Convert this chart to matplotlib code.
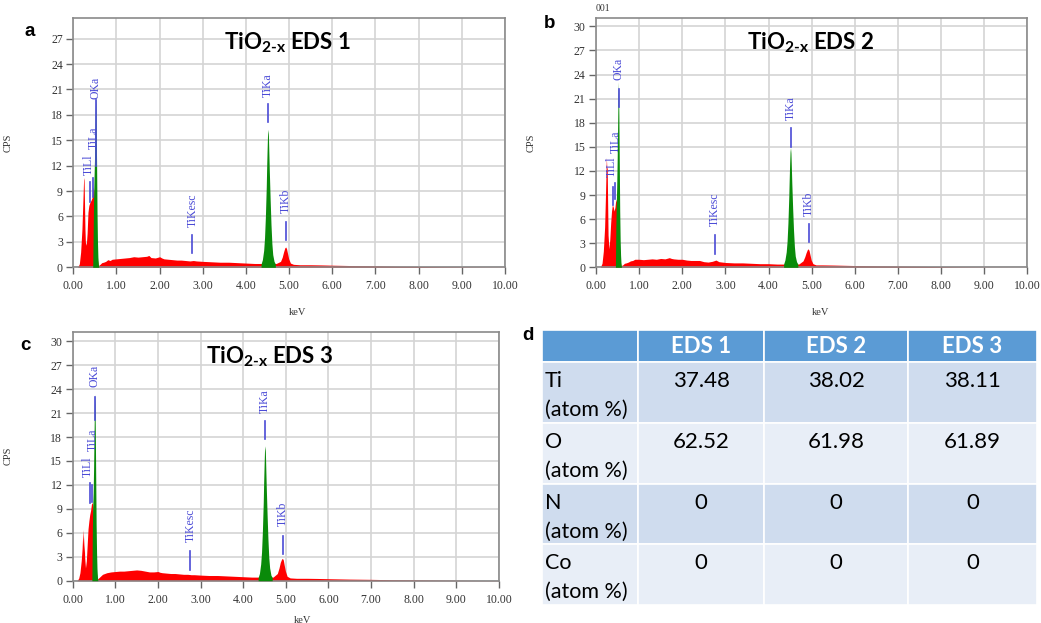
import matplotlib
matplotlib.use("Agg")
import matplotlib.pyplot as plt
from matplotlib.patches import Rectangle

plt.rcParams['mathtext.fontset'] = 'custom'
plt.rcParams['mathtext.rm'] = 'Lato:bold'
plt.rcParams['mathtext.it'] = 'Lato:bold'
plt.rcParams['mathtext.bf'] = 'Lato:bold'

# ---------------- data ----------------
LOW_E = [0.00, 0.10, 0.14, 0.17, 0.20, 0.22, 0.24, 0.25, 0.26, 0.27, 0.28, 0.30,
         0.32, 0.34, 0.36, 0.38, 0.40, 0.42, 0.44, 0.46, 0.48, 0.50, 0.54]
BG_E = [0.58, 0.62, 0.66, 0.70, 0.75, 0.80, 0.85, 0.90,
        1.00, 1.10, 1.20, 1.30, 1.40, 1.50, 1.60, 1.70, 1.75, 1.80, 1.90,
        2.00, 2.05, 2.10, 2.20, 2.30, 2.40, 2.50, 2.60, 2.70, 2.78, 2.85,
        3.00, 3.20, 3.40, 3.60, 3.80,
        4.00, 4.20, 4.35, 4.50, 4.70, 4.80, 4.84, 4.87, 4.90, 4.92, 4.94, 4.96, 4.99,
        5.03, 5.10, 5.25, 5.50, 5.75,
        6.00, 6.50, 7.00, 7.50, 8.00, 8.50, 9.00, 9.50, 10.00]
OKA_E = [0.45, 0.46, 0.47, 0.48, 0.49, 0.50, 0.51, 0.52, 0.53, 0.54, 0.55, 0.56, 0.57, 0.58, 0.59]
TIKA_E = [4.35, 4.38, 4.41, 4.43, 4.45, 4.47, 4.48, 4.49, 4.50, 4.51, 4.52, 4.53, 4.54,
          4.56, 4.58, 4.60, 4.62, 4.65, 4.68]

low_a = [0, 0, 0.4, 1.8, 4.5, 7.5, 10.6, 10.3, 7.5, 4.5, 3.0, 2.6,
         4.0, 6.5, 7.3, 7.6, 7.8, 8.0, 8.3, 9.5, 9.0, 6.0, 1.5]
low_b = [0, 0, 0.5, 2.0, 5.0, 9.0, 13.7, 12.5, 12.3, 8.0, 4.0, 2.3,
         3.5, 5.5, 7.0, 7.8, 7.5, 7.0, 7.5, 8.5, 8.0, 5.0, 1.5]
low_c = [0, 0, 0.3, 1.0, 2.5, 4.0, 6.4, 5.0, 3.5, 5.6, 3.0, 1.6,
         2.5, 4.5, 6.5, 7.5, 8.3, 8.8, 9.6, 9.8, 9.0, 6.0, 1.5]

bg_a = [0.2, 0.35, 0.55, 0.6, 0.7, 0.9, 0.8, 0.95,
        1.0, 1.05, 1.1, 1.15, 1.25, 1.2, 1.25, 1.3, 1.4, 1.15, 1.1,
        1.25, 1.1, 1.0, 0.95, 0.9, 0.85, 0.85, 0.8, 0.75, 0.8, 0.75,
        0.7, 0.65, 0.6, 0.6, 0.55,
        0.5, 0.45, 0.45, 0.45, 0.45, 0.7, 1.2, 1.8, 2.3, 2.4, 2.2, 1.7, 1.0,
        0.5, 0.35, 0.3, 0.3, 0.28,
        0.25, 0.2, 0.17, 0.12, 0.1, 0.07, 0.05, 0.03, 0.02]
bg_b = [0.2, 0.3, 0.5, 0.55, 0.65, 0.8, 0.85, 1.0,
        1.0, 0.95, 1.0, 1.05, 1.0, 1.1, 1.05, 1.2, 1.1, 1.05, 1.0,
        1.0, 0.95, 0.9, 0.85, 0.85, 0.85, 0.7, 0.65, 0.75, 0.9, 0.7,
        0.6, 0.55, 0.55, 0.5, 0.45,
        0.45, 0.4, 0.4, 0.4, 0.4, 0.8, 1.3, 1.8, 2.2, 2.3, 2.1, 1.6, 0.9,
        0.45, 0.3, 0.3, 0.28, 0.25,
        0.22, 0.18, 0.15, 0.12, 0.08, 0.05, 0.03, 0.02, 0.01]
bg_c = [0.2, 0.4, 0.6, 0.8, 0.9, 1.0, 1.05, 1.1,
        1.15, 1.2, 1.2, 1.25, 1.3, 1.35, 1.3, 1.2, 1.15, 1.1, 1.1,
        1.15, 1.05, 1.0, 0.95, 0.9, 0.9, 0.85, 0.8, 0.8, 0.75, 0.75,
        0.7, 0.65, 0.65, 0.6, 0.55,
        0.5, 0.45, 0.45, 0.45, 0.45, 0.9, 1.6, 2.3, 2.7, 2.8, 2.6, 2.0, 1.2,
        0.55, 0.35, 0.3, 0.3, 0.28,
        0.25, 0.2, 0.17, 0.12, 0.1, 0.07, 0.05, 0.03, 0.02]

oka_a = [0, 4, 8, 10.5, 12.5, 16, 18.5, 20.3, 17, 12, 6.5, 3.0, 1.2, 0.4, 0]
oka_b = [0, 5, 8, 10, 13, 17, 21, 23.1, 19, 13, 7, 3.5, 1.5, 0.5, 0]
oka_c = [0, 6, 9.5, 11, 14, 18, 22, 23.4, 19, 13, 7, 3.5, 1.5, 0.5, 0]

tika_a = [0.4, 0.9, 2.0, 3.5, 6.0, 9.5, 12.0, 14.0, 15.8, 16.3, 15.5, 13.5, 11.5, 8.0, 5.0, 2.8, 1.5, 0.7, 0.4]
tika_b = [0.4, 0.9, 1.9, 3.2, 5.5, 8.8, 11.0, 12.9, 14.4, 14.9, 14.2, 12.4, 10.5, 7.3, 4.6, 2.6, 1.4, 0.7, 0.4]
tika_c = [0.4, 0.9, 2.1, 3.6, 6.2, 9.8, 12.4, 14.5, 16.4, 16.9, 16.1, 14.0, 11.9, 8.3, 5.2, 2.9, 1.6, 0.7, 0.4]

# peak markers: names, energies (line, text) and per-panel (line bottom, line top, text bottom)
MARK_NAMES = ['TiLl', 'TiLa', 'OKa', 'TiKesc', 'TiKa', 'TiKb']
MARK_LINE_E = [0.395, 0.452, 0.525, 2.76, 4.51, 4.93]
MARK_TEXT_E = [0.36, 0.47, 0.52, 2.76, 4.51, 4.93]
marks_a = [(7.7, 10.1, 10.9), (8.3, 10.6, 14.0), (12.0, 19.8, 19.9), (1.65, 3.8, 4.8), (17.1, 19.3, 20.1), (3.2, 5.4, 6.4)]
marks_b = [(7.75, 10.0, 11.3), (8.5, 10.5, 14.2), (20.0, 22.2, 23.3), (1.7, 4.0, 5.1), (15.0, 17.3, 18.3), (3.1, 5.4, 6.4)]
marks_c = [(9.7, 12.2, 13.0), (9.8, 12.0, 16.3), (20.1, 23.0, 24.3), (1.4, 3.75, 4.9), (17.7, 20.0, 21.0), (3.3, 5.6, 6.8)]

X_TICKS = [0, 1, 2, 3, 4, 5, 6, 7, 8, 9, 10]
Y_TICKS = [0, 3, 6, 9, 12, 15, 18, 21, 24, 27, 30]

# table
TABLE_COLS = ['EDS 1', 'EDS 2', 'EDS 3']
TABLE_ROWS = ['Ti', 'O', 'N', 'Co']
TABLE_VALS = [['37.48', '38.02', '38.11'],
              ['62.52', '61.98', '61.89'],
              ['0', '0', '0'],
              ['0', '0', '0']]

# ---------------- figure ----------------
W, H = 1041, 623
fig = plt.figure(figsize=(W / 100, H / 100), dpi=100)

RED = '#ff0000'
GREEN = '#0a8a0a'
BLUE = '#4a4ad6'
SERIF = 'Liberation Serif'


def px_axes(l, t, r, b):
    return fig.add_axes([l / W, 1 - b / H, (r - l) / W, (b - t) / H])


def spectrum(ax, low, bg, oka, tika, marks, ymax, title, tx):
    ax.fill_between(LOW_E + BG_E, 0, low + bg, color=RED, lw=0, zorder=2)
    ax.fill_between(OKA_E, 0, oka, color=GREEN, lw=0, zorder=3)
    ax.fill_between(TIKA_E, 0, tika, color=GREEN, lw=0, zorder=3)
    for name, le, te, (y0, y1, yt) in zip(MARK_NAMES, MARK_LINE_E, MARK_TEXT_E, marks):
        ax.plot([le, le], [y0, y1], color=BLUE, lw=1.2, zorder=4)
        ax.text(te, yt, name, rotation=90, ha='center', va='bottom', color=BLUE,
                fontsize=8.5, family=SERIF, zorder=5)
    ax.set_xlim(0, 10)
    ax.set_ylim(0, ymax)
    ax.set_xticks(X_TICKS)
    ax.set_xticklabels(['%.2f' % v for v in X_TICKS])
    ax.set_yticks([v for v in Y_TICKS if v <= ymax])
    ax.grid(True, color='#d4d4d4', lw=1.2, zorder=0)
    ax.set_axisbelow(True)
    for s in ax.spines.values():
        s.set_color('#8a8a8a')
        s.set_linewidth(1.2)
    ax.tick_params(axis='x', direction='out', length=5, width=1, color='#666666',
                   pad=4.5, labelsize=8.5, labelcolor='#333333')
    ax.tick_params(axis='y', direction='out', length=5, width=1, color='#666666',
                   pad=2.5, labelsize=8.5, labelcolor='#333333')
    for lab in ax.get_xticklabels() + ax.get_yticklabels():
        lab.set_family(SERIF)
    ax.set_ylabel('CPS', family=SERIF, fontsize=7.5, color='#333333')
    ax.set_xlabel('keV', family=SERIF, fontsize=7.5, color='#333333')
    ax.text(tx, 0.9, title, transform=ax.transAxes, ha='center', va='center',
            fontsize=16, family='Lato', fontweight='bold')


ax_a = px_axes(73.3, 18.3, 505, 267.3)
spectrum(ax_a, low_a, bg_a, oka_a, tika_a, marks_a, 29.4, r'TiO$_{2\text{-}x}$ EDS 1', 0.497)
ax_a.yaxis.set_label_coords(-0.14, 0.5)
ax_a.xaxis.set_label_coords(0.52, -0.163)

ax_b = px_axes(596, 18.3, 1027.3, 267.3)
spectrum(ax_b, low_b, bg_b, oka_b, tika_b, marks_b, 31.0, r'TiO$_{2\text{-}x}$ EDS 2', 0.498)
ax_b.yaxis.set_label_coords(-0.14, 0.5)
ax_b.xaxis.set_label_coords(0.52, -0.163)
ax_b.text(0.0, 1.02, '001', transform=ax_b.transAxes, ha='left', va='bottom',
          fontsize=7, family=SERIF, color='#333333')

ax_c = px_axes(72.7, 331.7, 499, 580.7)
spectrum(ax_c, low_c, bg_c, oka_c, tika_c, marks_c, 31.2, r'TiO$_{2\text{-}x}$ EDS 3', 0.463)
ax_c.yaxis.set_label_coords(-0.14, 0.5)
ax_c.xaxis.set_label_coords(0.54, -0.14)

# panel letters
for lx, ly, letter in [(30, 32, 'a'), (550, 24, 'b'), (25, 346, 'c'), (528, 336, 'd')]:
    fig.text(lx / W, 1 - ly / H, letter, ha='center', va='center', fontsize=13.5,
             fontweight='bold', family='Liberation Sans')

# ---------------- table ----------------
ax_t = px_axes(541.7, 330, 1036.7, 605)
ax_t.set_xlim(0, 495)
ax_t.set_ylim(275, 0)
ax_t.axis('off')
col_edges = [0, 96.6, 222.6, 366.6, 495]
row_edges = [0, 32.3, 93.3, 154.3, 214.3, 275]
HEAD = '#5b9bd5'
ROW_DARK = '#cfdcee'
ROW_LIGHT = '#e8eef7'
for ci in range(4):
    ax_t.add_patch(Rectangle((col_edges[ci], 0), col_edges[ci + 1] - col_edges[ci], row_edges[1],
                             facecolor=HEAD, edgecolor='white', lw=1.2))
for ci, name in enumerate(TABLE_COLS):
    ax_t.text((col_edges[ci + 1] + col_edges[ci + 2]) / 2, row_edges[1] / 2 + 0.5, name,
              ha='center', va='center', color='white', fontsize=16,
              fontweight='bold', family='Lato')
for ri, rname in enumerate(TABLE_ROWS):
    top = row_edges[ri + 1]
    hgt = row_edges[ri + 2] - top
    fc = ROW_DARK if ri % 2 == 0 else ROW_LIGHT
    for ci in range(4):
        ax_t.add_patch(Rectangle((col_edges[ci], top), col_edges[ci + 1] - col_edges[ci], hgt,
                                 facecolor=fc, edgecolor='white', lw=1.2))
    ax_t.text(3.3, top + 18.7, rname, ha='left', va='center', fontsize=15.5, family='Lato')
    ax_t.text(3.3, top + 47.7, '(atom %)', ha='left', va='center', fontsize=15.5, family='Lato')
    for ci in range(3):
        ax_t.text((col_edges[ci + 1] + col_edges[ci + 2]) / 2, top + 18.7, TABLE_VALS[ri][ci],
                  ha='center', va='center', fontsize=16, family='Lato')

fig.savefig('out.png', dpi=100)
